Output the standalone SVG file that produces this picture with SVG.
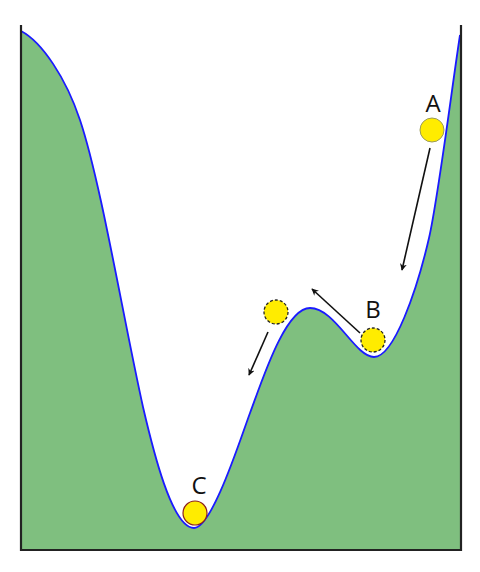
<svg xmlns="http://www.w3.org/2000/svg" width="480" height="572" viewBox="0 0 480 572">
<style>
.lbl{font-family:"Open Sans","Noto Sans",sans-serif;font-size:24px;fill:#111;text-anchor:middle}
.ball{fill:#ffec00}
.dash{stroke:#222;stroke-width:1.3;stroke-dasharray:3 2}
.arr{stroke:#111;stroke-width:1.6;fill:none;marker-end:url(#ah)}
</style>
<defs>
<marker id="ah" viewBox="0 0 10 10" refX="9" refY="5" markerWidth="7" markerHeight="7" markerUnits="userSpaceOnUse" orient="auto">
<path d="M0,0 L10,5 L0,10 L3,5 Z" fill="#111"/>
</marker>
</defs>
<rect width="480" height="572" fill="#fff"/>
<g id="terrain">
<path d="M21,31 C42,42 66,78 80,120 C101,183 123,317 143,407 C153,450 172,528 194,528 C212,528 240,440 250,413 C262,381 285,308 310,308 C335,308 355,357 374,357 C394,357 417,290 429,238 C438,199 452,87 460,35 L460,550 L21,550 Z" fill="#7fbf7f"/>
<path d="M21,31 C42,42 66,78 80,120 C101,183 123,317 143,407 C153,450 172,528 194,528 C212,528 240,440 250,413 C262,381 285,308 310,308 C335,308 355,357 374,357 C394,357 417,290 429,238 C438,199 452,87 460,35" fill="none" stroke="#1a1aff" stroke-width="1.8"/>
<path d="M21,25 L21,550 L461,550 L461,25" fill="none" stroke="#222" stroke-width="2.2"/>
</g>
<g id="connectors">
<line class="arr" x1="430" y1="148" x2="402" y2="270"/>
<line class="arr" x1="360" y1="333" x2="312" y2="289"/>
<line class="arr" x1="268" y1="332" x2="249" y2="375"/>
</g>
<g id="ballA">
<circle class="ball" cx="432" cy="130" r="12" stroke="#9a9a5a" stroke-width="1"/>
<text class="lbl" x="433" y="112">A</text>
</g>
<g id="ballB">
<circle class="ball dash" cx="373" cy="340" r="12"/>
<text class="lbl" x="373" y="318">B</text>
</g>
<g id="ballMid">
<circle class="ball dash" cx="276" cy="312" r="12"/>
</g>
<g id="ballC">
<circle class="ball" cx="195" cy="513" r="12" stroke="#8b2020" stroke-width="1.2"/>
<text class="lbl" x="199" y="494">C</text>
</g>
</svg>
